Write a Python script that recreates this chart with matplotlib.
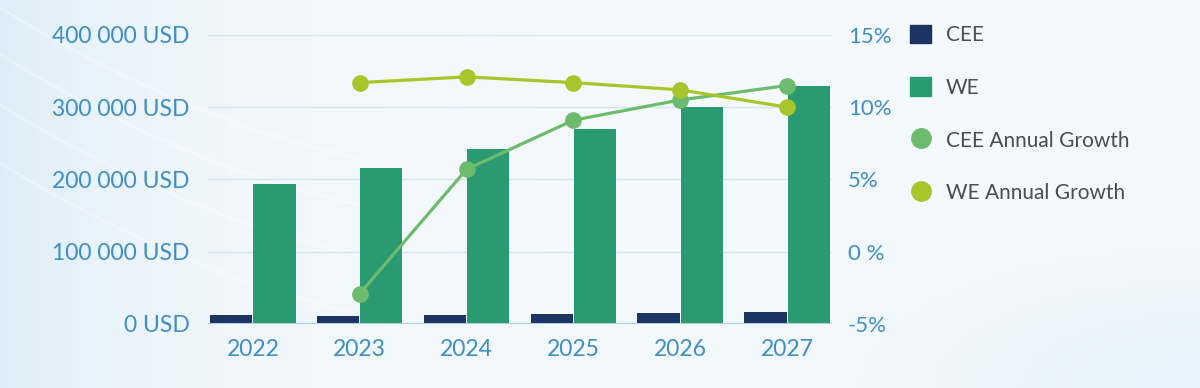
import numpy as np
import matplotlib
matplotlib.use("Agg")
import matplotlib.pyplot as plt
from matplotlib.lines import Line2D
from matplotlib.patches import Patch

years = ["2022", "2023", "2024", "2025", "2026", "2027"]
cee_values = [12000, 11000, 12500, 13500, 15000, 16000]
we_values = [194000, 216000, 242000, 270000, 300000, 329000]
growth_years = ["2023", "2024", "2025", "2026", "2027"]
cee_growth = [-2.9, 5.7, 9.1, 10.5, 11.5]
we_growth = [11.7, 12.1, 11.7, 11.2, 10.0]

left_ticks = [0, 100000, 200000, 300000, 400000]
left_labels = ["0 USD", "100 000 USD", "200 000 USD", "300 000 USD", "400 000 USD"]
right_ticks = [-5, 0, 5, 10, 15]
right_labels = ["-5%", "0 %", "5%", "10%", "15%"]

C_CEE = "#1b3461"
C_WE = "#2a9a70"
C_CEEG = "#6dbb6c"
C_WEG = "#a8c62b"
C_TICK = "#3f8ec4"
C_TEXT = "#4a4d52"

plt.rcParams["font.family"] = ["Lato", "DejaVu Sans"]

fig = plt.figure(figsize=(12, 3.88), dpi=100)

# background gradient
bg = fig.add_axes([0, 0, 1, 1], zorder=-10)
xx = np.linspace(0, 1, 400)
yy = np.linspace(0, 1, 130)
X, Y = np.meshgrid(xx, yy)
base = np.array([0.955, 0.978, 0.993])
blue = np.array([0.86, 0.925, 0.97])
wleft = np.exp(-X / 0.12) * 0.9
wbr = np.exp(-((1 - X) ** 2 / 0.05 + Y ** 2 / 0.08)) * 0.5
wgt = np.clip(wleft + wbr, 0, 1)[..., None]
img = base * (1 - wgt) + blue * wgt
bg.imshow(img, aspect="auto", extent=[0, 1, 0, 1], origin="lower")
for off in [0.0, 0.12, 0.25, 0.4]:
    xs = np.linspace(0, 0.3, 200)
    ys = 0.98 - off - 1.9 * xs + 2.0 * xs ** 2
    bg.plot(xs, ys, color="white", lw=2.0, alpha=0.3)
bg.set_xlim(0, 1)
bg.set_ylim(0, 1)
bg.axis("off")

ax = fig.add_axes([0.1733, 0.165, 0.52, 0.745])
ax.patch.set_alpha(0)
x = np.arange(len(years))
w = 0.395
ax.bar(x - w / 2 - 0.005, cee_values, width=w, color=C_CEE, zorder=3)
ax.bar(x + w / 2 + 0.005, we_values, width=w, color=C_WE, zorder=3)
ax.set_xlim(-0.42, 5.42)
ax.set_ylim(0, 400000)
ax.set_yticks(left_ticks)
ax.set_yticklabels(left_labels)
ax.set_xticks(x)
ax.set_xticklabels(years)
ax.tick_params(axis="y", length=0, pad=13, labelsize=16.5, labelcolor=C_TICK)
ax.tick_params(axis="x", length=0, pad=11, labelsize=16.5, labelcolor=C_TICK)
for v in left_ticks[1:]:
    ax.axhline(v, color="#d3e5f0", lw=1, zorder=1)
ax.axhline(0, color="#a9cde3", lw=1.5, zorder=4)
for s in ax.spines.values():
    s.set_visible(False)

ax2 = ax.twinx()
ax2.set_ylim(-5, 15)
gx = [years.index(g) for g in growth_years]
ax2.plot(gx, cee_growth, color=C_CEEG, lw=2.3, marker="o", ms=11, zorder=5)
ax2.plot(gx, we_growth, color=C_WEG, lw=2.3, marker="o", ms=11, zorder=5)
ax2.set_yticks(right_ticks)
ax2.set_yticklabels(right_labels)
ax2.tick_params(axis="y", length=0, pad=11.5, labelsize=16, labelcolor=C_TICK)
for s in ax2.spines.values():
    s.set_visible(False)

handles = [
    Patch(color=C_CEE, label="CEE"),
    Patch(color=C_WE, label="WE"),
    Line2D([], [], color=C_CEEG, marker="o", ls="", ms=14, label="CEE Annual Growth"),
    Line2D([], [], color=C_WEG, marker="o", ls="", ms=14, label="WE Annual Growth"),
]
leg = fig.legend(handles=handles, loc="upper left", bbox_to_anchor=(0.743, 0.985),
                 frameon=False, fontsize=15, labelspacing=1.55, handlelength=1.0,
                 handleheight=1.0, handletextpad=0.7, labelcolor=C_TEXT)

fig.savefig("out.png", dpi=100)
